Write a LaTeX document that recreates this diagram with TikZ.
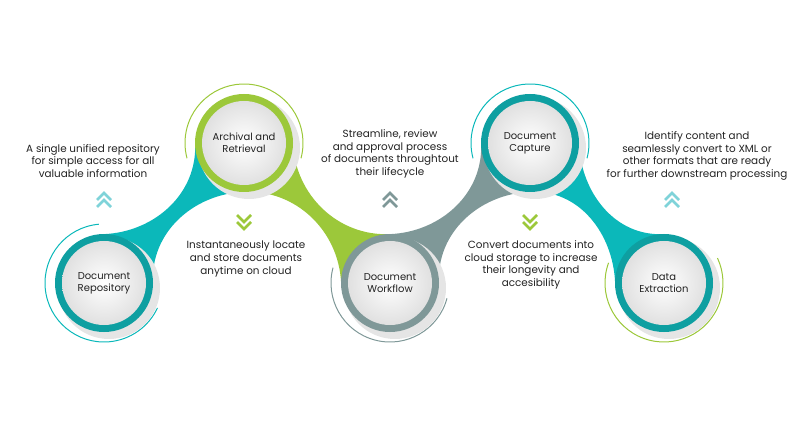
\documentclass[tikz,border=0pt]{standalone}
\usepackage{fontspec}
\setmainfont{Poppins}
\usetikzlibrary{calc}
\definecolor{teal1}{HTML}{0BB8BA}
\definecolor{teal2}{HTML}{0E9FA1}
\definecolor{green1}{HTML}{9CC83A}
\definecolor{gray1}{HTML}{7F9898}
\definecolor{lteal}{HTML}{7FD3D9}
\definecolor{txt}{HTML}{222222}
\tikzset{
 desc/.style={align=center,font=\fontsize{10.4}{12.6}\selectfont,text=txt},
 lab/.style={align=center,font=\fontsize{10}{12}\selectfont,text=txt},
 chev/.style={line width=2.8pt,line cap=butt,line join=miter},
}
\newcommand{\hub}[3]{%
 \fill[black!10] ($(#1)+(5,-5)$) circle (51);
 \fill[#2] (#1) circle (49);
 \shade[inner color=white,outer color=black!12] (#1) circle (42);
 \node[lab] at (#1) {#3};
}
\begin{document}
\begin{tikzpicture}[x=1pt,y=1pt]
\useasboundingbox (0,0) rectangle (800,434);
\coordinate (A) at (104,151);
\coordinate (B) at (244,291);
\coordinate (W) at (390,151);
\coordinate (C) at (530,291);
\coordinate (E) at (664,151);
% bands
\fill[teal1] ($(A)+(95:49)$) to[out=0,in=-90] ($(B)+(185:49)$) -- ($(B)+(-85:49)$) to[out=180,in=90] ($(A)+(5:49)$) -- cycle;
\fill[green1] ($(B)+(5:49)$) to[out=-90,in=180] ($(W)+(95:49)$) -- ($(W)+(185:49)$) to[out=90,in=0] ($(B)+(-85:49)$) -- cycle;
\fill[gray1] ($(W)+(95:49)$) to[out=0,in=-90] ($(C)+(185:49)$) -- ($(C)+(-85:49)$) to[out=180,in=90] ($(W)+(5:49)$) -- cycle;
\fill[teal1] ($(C)+(5:49)$) to[out=-90,in=180] ($(E)+(95:49)$) -- ($(E)+(185:49)$) to[out=90,in=0] ($(C)+(-85:49)$) -- cycle;
% outer arcs
\draw[teal1,line width=1pt] ($(A)+(95:59)$) arc[start angle=95,end angle=335,radius=59];
\draw[green1,line width=1pt] ($(B)+(-15:59)$) arc[start angle=-15,end angle=195,radius=59];
\draw[gray1,line width=1pt] ($(W)+(165:59)$) arc[start angle=165,end angle=345,radius=59];
\draw[teal1,line width=1pt] ($(C)+(-15:59)$) arc[start angle=-15,end angle=195,radius=59];
\draw[green1,line width=1pt] ($(E)+(160:59)$) arc[start angle=160,end angle=385,radius=59];
% hubs
\hub{A}{teal2}{Document\\Repository}
\hub{B}{green1}{Archival and\\Retrieval}
\hub{W}{gray1}{Document\\Workflow}
\hub{C}{teal2}{Document\\Capture}
\hub{E}{teal2}{Data\\Extraction}
% chevrons
\foreach \x/\c in {104/lteal,390/gray1,672/lteal}{
 \draw[chev,\c] (\x-7,227) -- (\x,234) -- (\x+7,227);
 \draw[chev,\c] (\x-7,234) -- (\x,241) -- (\x+7,234);
}
\foreach \x in {244,530}{
 \draw[chev,green1] (\x-7,219) -- (\x,212) -- (\x+7,219);
 \draw[chev,green1] (\x-7,212) -- (\x,205) -- (\x+7,212);
}
% texts
\node[desc] (t1) at (93,273) {A single unified repository\\for simple access for all\\valuable information};
\node[desc] (t2) at (246,175) {Instantaneously locate\\and store documents\\anytime on cloud};
\node[desc] (t3) at (390,280) {Streamline, review\\and approval process\\of documents throughtout\\their lifecycle};
\node[desc] (t4) at (531,169) {Convert documents into\\cloud storage to increase\\their longevity and\\accesibility};
\node[desc] (t5) at (697,278) {Identify content and\\seamlessly convert to XML or\\other formats that are ready\\for further downstream processing};
\end{tikzpicture}
\end{document}
